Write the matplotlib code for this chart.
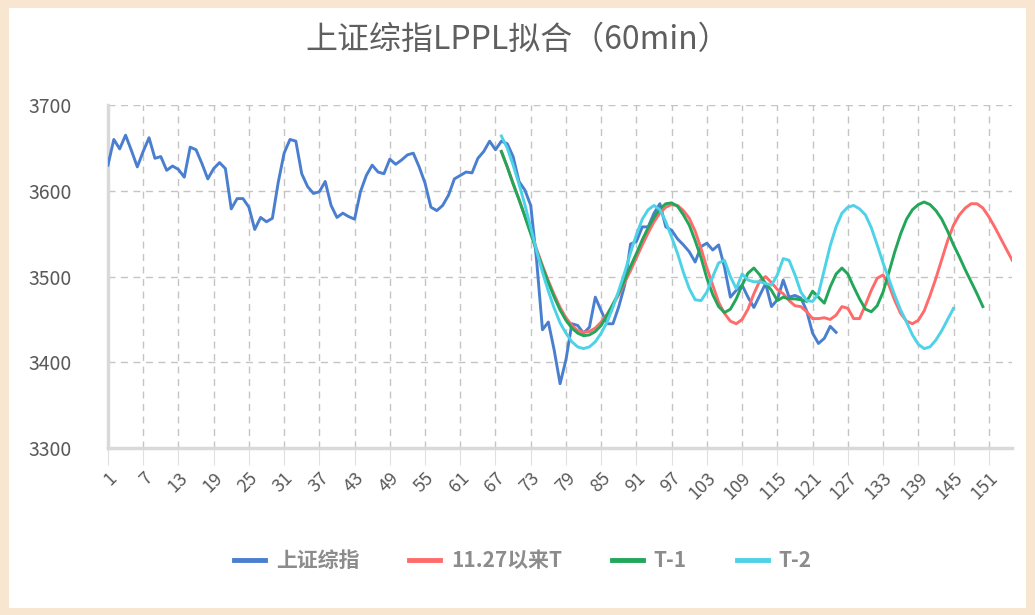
import numpy as np
import matplotlib
matplotlib.use("Agg")
import matplotlib.pyplot as plt
from matplotlib.patches import Rectangle

plt.rcParams['font.family'] = ['Noto Sans CJK SC', 'DejaVu Sans']

# 上证综指 60min close, index 1..125
sh_index = [
    3630, 3660, 3649, 3665, 3647, 3628, 3646, 3662, 3638, 3640,
    3624, 3629, 3625, 3616, 3651, 3648, 3632, 3614, 3626, 3633,
    3626, 3579, 3591, 3591, 3581, 3555, 3569, 3564, 3568, 3610,
    3644, 3660, 3658, 3620, 3605, 3597, 3599, 3611, 3583, 3569,
    3574, 3570, 3567, 3599, 3618, 3630, 3622, 3620, 3637, 3631,
    3636, 3642, 3644, 3628, 3609, 3581, 3577, 3583, 3595, 3614,
    3618, 3622, 3621, 3638, 3646, 3658, 3648, 3658, 3655, 3640,
    3611, 3601, 3583, 3519, 3438, 3447, 3414, 3375, 3403, 3445,
    3443, 3434, 3441, 3476, 3460, 3445, 3445, 3465, 3490, 3538,
    3541, 3558, 3558, 3574, 3585, 3558, 3554, 3544, 3537, 3529,
    3517, 3535, 3539, 3531, 3537, 3511, 3476, 3484, 3490, 3476,
    3464, 3478, 3492, 3465, 3473, 3496, 3476, 3478, 3475, 3460,
    3434, 3422, 3428, 3442, 3435,
]

# LPPL fits, all starting at index 68
fit_start = 68
fit_since_1127 = [
    3646, 3628, 3609, 3590, 3571, 3551, 3532, 3513, 3495, 3479,
    3464, 3452, 3443, 3437, 3435, 3436, 3440, 3447, 3456, 3467,
    3479, 3493, 3507, 3522, 3537, 3551, 3564, 3574, 3581, 3584,
    3583, 3577, 3568, 3553, 3533, 3510, 3490, 3470, 3457, 3448,
    3445, 3450, 3462, 3480, 3495, 3500, 3493, 3485, 3480, 3472,
    3466, 3465, 3459, 3451, 3451, 3452, 3450, 3455, 3465, 3463,
    3451, 3451, 3467, 3484, 3498, 3502, 3490, 3472, 3457, 3448,
    3445, 3449, 3460, 3478, 3498, 3520, 3542, 3560, 3572, 3580,
    3585, 3585, 3580, 3570, 3558, 3545, 3532, 3519,
]
fit_t1 = [
    3646, 3628, 3608, 3590, 3570, 3550, 3530, 3511, 3493, 3476,
    3461, 3449, 3440, 3434, 3431, 3432, 3436, 3443, 3455, 3468,
    3481, 3496, 3512, 3527, 3543, 3557, 3569, 3579, 3585, 3586,
    3582, 3572, 3560, 3542, 3522, 3498, 3479, 3465, 3458, 3462,
    3474, 3490, 3504, 3510, 3502, 3492, 3484, 3472, 3476, 3474,
    3474, 3473, 3471, 3483, 3476, 3469, 3488, 3503, 3510, 3503,
    3488, 3474, 3462, 3459, 3466, 3482, 3505, 3529, 3550, 3567,
    3578, 3584, 3587, 3584, 3577, 3567, 3553, 3537, 3523, 3508,
    3494, 3480, 3465,
]
fit_t2 = [
    3664, 3650, 3630, 3608, 3584, 3557, 3530, 3505, 3483, 3463,
    3446, 3434, 3424, 3418, 3416, 3418, 3424, 3434, 3447, 3464,
    3484, 3505, 3528, 3549, 3567, 3578, 3583, 3578, 3564, 3546,
    3527, 3505, 3486, 3473, 3472, 3482, 3500, 3516, 3519, 3500,
    3486, 3503, 3496, 3494, 3494, 3492, 3490, 3502, 3521, 3519,
    3502, 3482, 3472, 3471, 3480, 3508, 3536, 3558, 3574, 3581,
    3583, 3579, 3572, 3557, 3537, 3516, 3497, 3478, 3461, 3447,
    3432, 3421, 3416, 3418, 3426, 3437, 3450, 3463,
]

series_names = ["上证综指", "11.27以来T", "T-1", "T-2"]
colors = ["#4A7FD0", "#FF6B6B", "#22A65A", "#4DD2E8"]
x_ticks = list(range(1, 152, 6))

fig = plt.figure(figsize=(10.35, 6.15), dpi=100, facecolor="#F8E6D0")
# white card inside the beige frame
fig.patches.append(Rectangle((0.009, 0.012), 0.982, 0.975, transform=fig.transFigure,
                             facecolor="white", edgecolor="none", zorder=-5))

ax = fig.add_axes([0.1043, 0.2715, 0.8737, 0.5575])
ax.set_zorder(2)
ax.set_facecolor("white")

ax.plot(np.arange(1, len(sh_index) + 1), sh_index, color=colors[0], lw=2.1, label=series_names[0], zorder=3)
fits = [fit_since_1127, fit_t1, fit_t2]
for vals, name, c in zip(fits, series_names[1:], colors[1:]):
    ax.plot(np.arange(fit_start, fit_start + len(vals)), vals, color=c, lw=2.1, label=name, zorder=3)

ax.set_xlim(1, 155)
ax.set_ylim(3300, 3700)
ax.set_yticks([3300, 3400, 3500, 3600, 3700])
ax.set_xticks(x_ticks)
ax.set_xticklabels([str(t) for t in x_ticks], rotation=45, ha="right", rotation_mode="anchor")

ax.grid(True, color="#C4C4C4", linestyle=(0, (5, 4)), linewidth=1.0)
ax.set_axisbelow(True)
for s in ["top", "right"]:
    ax.spines[s].set_visible(False)
for s in ["left", "bottom"]:
    ax.spines[s].set_color("#D9D9D9")
    ax.spines[s].set_linewidth(2.5)

ax.tick_params(axis="y", length=0, pad=57, labelsize=14, labelcolor="#595959")
ax.tick_params(axis="x", length=12, color="#E0E0E0", pad=3, labelsize=13, labelcolor="#595959")
for lab in ax.get_yticklabels():
    lab.set_horizontalalignment("left")

fig.text(0.5, 0.935, "上证综指LPPL拟合（60min）", ha="center", va="center",
         fontsize=23, color="#5F5F5F")

leg = fig.legend(loc="center", bbox_to_anchor=(0.505, 0.088), ncol=4, frameon=False,
                 handlelength=1.5, handletextpad=0.5, columnspacing=2.4,
                 prop={"size": 15, "weight": "bold"})
for t in leg.get_texts():
    t.set_color("#8C8C8C")
for h in leg.get_lines():
    h.set_linewidth(3.5)

fig.savefig("out.png", dpi=100, facecolor=fig.get_facecolor())
